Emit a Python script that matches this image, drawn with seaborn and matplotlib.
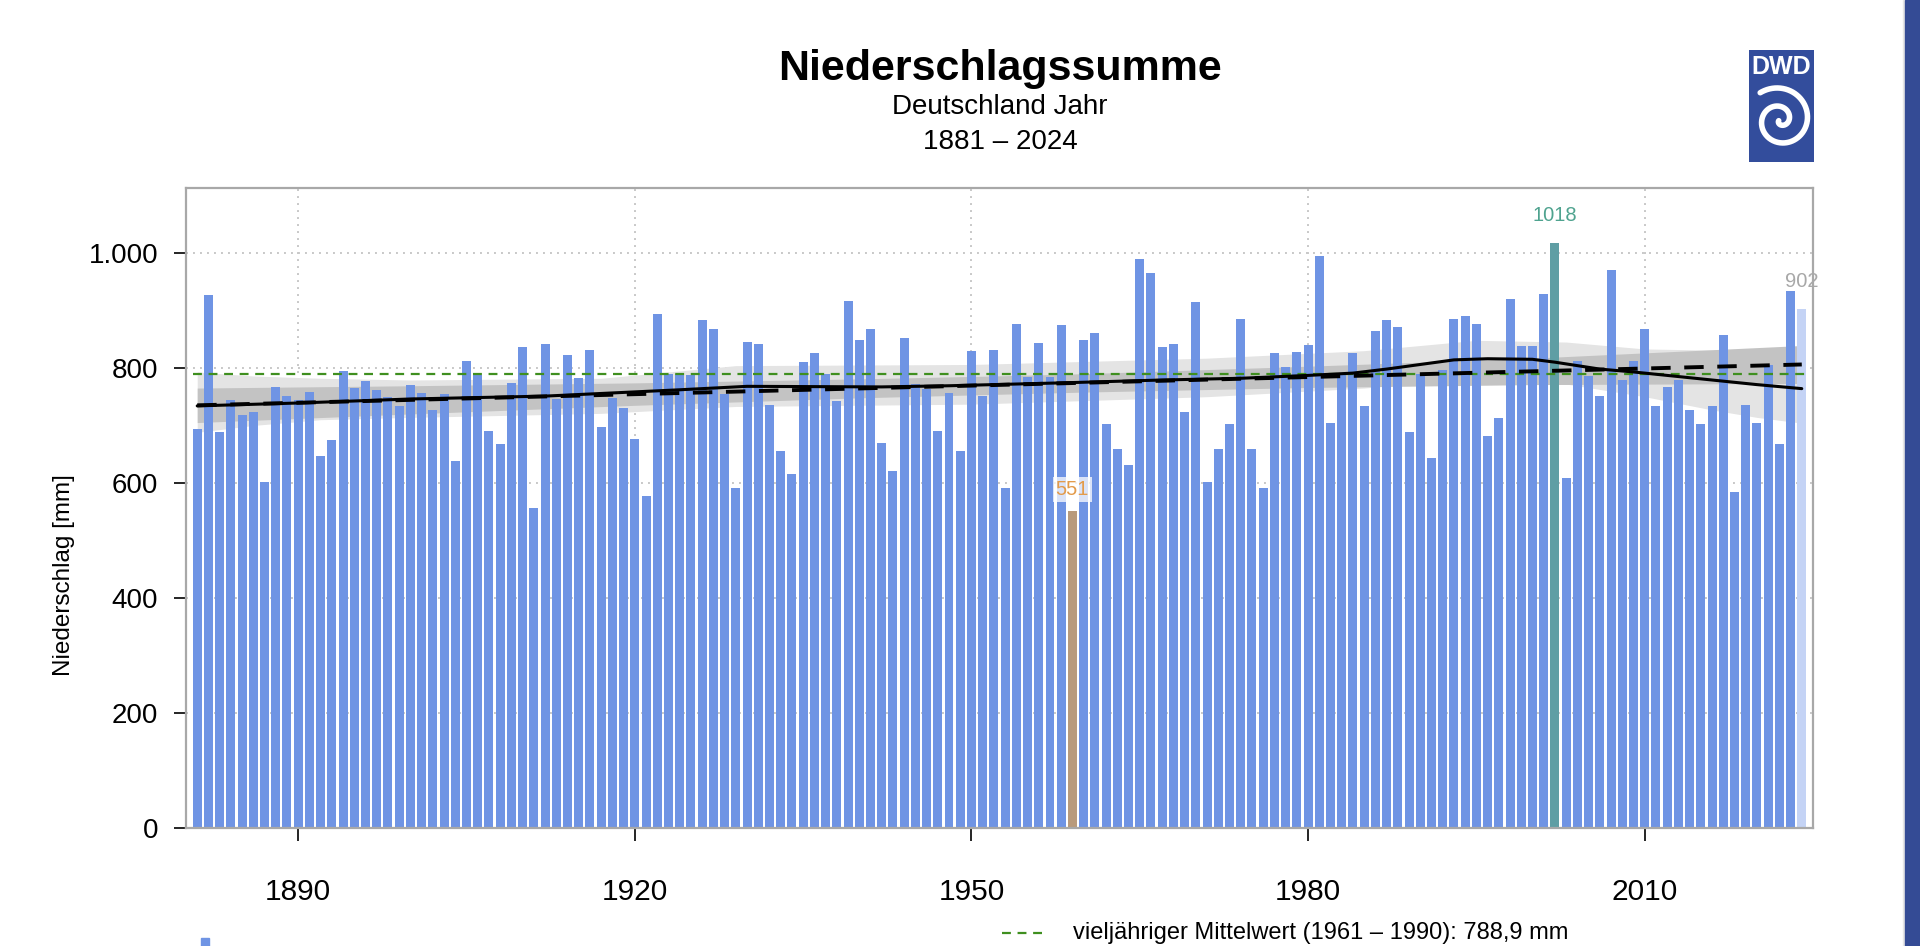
import matplotlib
matplotlib.use("Agg")
import matplotlib.pyplot as plt
import matplotlib.ticker as mticker
from matplotlib.lines import Line2D
from matplotlib.patches import Rectangle
import numpy as np
import pandas as pd
import seaborn as sns

# Jahreswerte Niederschlag Deutschland (mm)
years = list(range(1881, 2025))
precip = [
    693, 926, 688, 745, 719, 723, 601, 767, 751, 744,
    759, 647, 675, 795, 765, 778, 762, 749, 734, 770,
    756, 726, 754, 638, 812, 788, 690, 668, 773, 837,
    556, 842, 746, 823, 783, 831, 698, 747, 730, 677,
    578, 894, 790, 789, 787, 884, 868, 755, 591, 845,
    842, 735, 656, 616, 810, 826, 790, 742, 916, 848,
    867, 669, 621, 852, 772, 763, 690, 756, 656, 830,
    751, 832, 591, 877, 784, 844, 784, 875, 551, 849,
    861, 702, 659, 631, 990, 965, 837, 842, 724, 914,
    601, 659, 702, 885, 659, 592, 826, 802, 828, 840,
    995, 705, 788, 826, 733, 865, 884, 872, 688, 790,
    643, 796, 885, 890, 877, 682, 713, 919, 838, 838,
    928, 1018, 608, 812, 786, 751, 970, 779, 812, 868,
    733, 767, 779, 726, 702, 733, 858, 585, 735, 705,
    805, 668, 934, 902,
]
year_min, year_max, year_current = 1959, 2002, 2024
climate_mean = 788.9

# geglaettete Kurve (durchgezogen)
smooth_years = [1881, 1890, 1900, 1912, 1924, 1930, 1942, 1948, 1958, 1967, 1974,
                1980, 1984, 1987, 1990, 1993, 1996, 2000, 2002, 2006, 2009, 2013,
                2017, 2020, 2024]
smooth_vals = [734, 739, 746, 751, 762, 768, 767, 769, 774, 779, 782,
               787, 791, 798, 806, 814, 816, 815, 810, 798, 793, 785,
               777, 771, 764]

# linearer Trend (gestrichelt)
trend_years = [1881, 2024]
trend_vals = [735, 806]

# Unsicherheitsbereich Trend (dunkelgrau)
trend_band_years = [1881, 1900, 1920, 1940, 1952, 1960, 1980, 2000, 2024]
trend_band_lo = [705, 720, 735, 748, 754, 758, 766, 771, 773]
trend_band_hi = [765, 769, 774, 781, 786, 790, 803, 817, 839]

# Unsicherheitsbereich Glaettung (hellgrau)
smooth_band_years = [1881, 1886, 1892, 1900, 1917, 1929, 1950, 1971, 1985, 1995,
                     2003, 2010, 2016, 2020, 2024]
smooth_band_lo = [688, 700, 710, 714, 721, 733, 737, 750, 765, 783,
                  772, 750, 727, 714, 704]
smooth_band_hi = [793, 786, 782, 779, 782, 804, 806, 817, 830, 848,
                  845, 833, 831, 832, 835]

xtick_years = [1890, 1920, 1950, 1980, 2010]
ytick_vals = [0, 200, 400, 600, 800, 1000]

BLUE = "#6f94e4"
colors = {"normal": BLUE, "min": "#b89a7c", "max": "#5f9ea4", "current": "#c4d3f5"}


def kind_of(y):
    if y == year_min:
        return "min"
    if y == year_max:
        return "max"
    if y == year_current:
        return "current"
    return "normal"


df = pd.DataFrame({"year": years, "precip": precip})
df["kind"] = df["year"].map(kind_of)

sns.set_theme(style="white")
plt.rcParams["font.family"] = ["Liberation Sans", "DejaVu Sans"]
plt.rcParams["text.color"] = "black"

fig = plt.figure(figsize=(19.2, 9.46), dpi=100)
ax = fig.add_axes([186 / 1920, 1 - 828 / 946, 1627 / 1920, 639.5 / 946])

ax.fill_between(smooth_band_years, smooth_band_lo, smooth_band_hi,
                color="#e4e4e4", lw=0, zorder=1)
ax.fill_between(trend_band_years, trend_band_lo, trend_band_hi,
                color="#c3c3c3", lw=0, zorder=1.1)

sns.barplot(data=df, x="year", y="precip", hue="kind", palette=colors,
            native_scale=True, dodge=False, width=0.8, saturation=1,
            legend=False, ax=ax)
for p in ax.patches:
    p.set_zorder(2)
    p.set_linewidth(0)

ax.hlines(climate_mean, 1880.6, 2024.3, color="#3f8f1f", lw=1.6,
          linestyles=(0, (4, 3)), zorder=3)
sns.lineplot(x=trend_years, y=trend_vals, ax=ax, color="black", lw=2.8,
             zorder=4).lines[-1].set_linestyle((0, (5, 3.5)))
sns.lineplot(x=smooth_years, y=smooth_vals, ax=ax, color="black", lw=2.2,
             zorder=4)

# Beschriftung Extreme
vals = dict(zip(years, precip))
ax.text(year_max, vals[year_max] + 47, f"{vals[year_max]}", color="#4fa38f",
        fontsize=14.5, ha="center", va="center", zorder=5)
ax.text(year_min, vals[year_min] + 38, f"{vals[year_min]}", color="#e39b4b",
        fontsize=14.5, ha="center", va="center", zorder=5,
        bbox=dict(boxstyle="square,pad=0.15", fc="white", ec="none", alpha=0.75))
ax.text(year_current, vals[year_current] + 48, f"{vals[year_current]}",
        color="#a8a8a8", fontsize=14.5, ha="center", va="center", zorder=5)

ax.set_xlim(1880.0, 2025.0)
ax.set_ylim(0, 1112)
ax.set_xticks(xtick_years)
ax.set_yticks(ytick_vals)
ax.yaxis.set_major_formatter(
    mticker.FuncFormatter(lambda v, _: f"{v:,.0f}".replace(",", ".")))
ax.set_xlabel("")
ax.set_ylabel("")
ax.grid(True, color="#c8c8c8", lw=1.4, linestyle=(0, (1, 2.6)))
ax.set_axisbelow(True)
ax.tick_params(axis="both", direction="out", length=9, width=1.2, color="black",
               labelcolor="black", left=True, bottom=True)
ax.tick_params(axis="x", labelsize=21.5, pad=27)
ax.tick_params(axis="y", labelsize=20, pad=11)
for s in ax.spines.values():
    s.set_color("#a8a8a8")
    s.set_linewidth(1.6)

fig.text(64 / 1920, 1 - 575 / 946, "Niederschlag [mm]", rotation=90,
         fontsize=17.5, ha="center", va="center", color="black")

# Titel
fig.text(1000 / 1920, 1 - 80 / 946, "Niederschlagssumme", fontsize=31,
         fontweight="bold", ha="center", va="baseline", color="black")
fig.text(1000 / 1920, 1 - 114 / 946, "Deutschland Jahr", fontsize=20,
         ha="center", va="baseline", color="black")
fig.text(1000 / 1920, 1 - 149 / 946, f"{years[0]} \u2013 {years[-1]}", fontsize=20,
         ha="center", va="baseline", color="black")

# Legende (unten angeschnitten)
fig.patches.append(Rectangle((201 / 1920, 0), 8 / 1920, 8 / 946,
                             transform=fig.transFigure, color=BLUE))
fig.lines.append(Line2D([1002 / 1920, 1045 / 1920], [1 - 933 / 946] * 2,
                        transform=fig.transFigure, color="#3f8f1f", lw=1.6,
                        linestyle=(0, (4, 3))))
fig.text(1073 / 1920, 1 - 933 / 946,
         "vielj\u00e4hriger Mittelwert (1961 \u2013 1990): 788,9 mm",
         fontsize=17, ha="left", va="center", color="black")

# DWD-Logo
lax = fig.add_axes([1749 / 1920, 1 - 162 / 946, 65 / 1920, 112 / 946])
lax.set_facecolor("#334d9c")
lax.set_xlim(0, 65)
lax.set_ylim(0, 112)
lax.set_xticks([])
lax.set_yticks([])
for s in lax.spines.values():
    s.set_visible(False)
lax.text(32.5, 95, "DWD", color="white", fontsize=18, fontweight="bold",
         ha="center", va="center")
t = np.linspace(0.5, 3.7 * np.pi, 400)
r = 2.9 * t
lax.plot(31 + r * np.cos(t + np.pi), 42 + r * np.sin(t + np.pi), color="white",
         lw=4.0, solid_capstyle="round")

# Randstreifen rechts
fig.patches.append(Rectangle((1903 / 1920, 0), 2 / 1920, 1,
                             transform=fig.transFigure, color="#e6e6e6"))
fig.patches.append(Rectangle((1905 / 1920, 0), 15 / 1920, 1,
                             transform=fig.transFigure, color="#344b95"))

fig.savefig("out.png", dpi=100, facecolor="white")
